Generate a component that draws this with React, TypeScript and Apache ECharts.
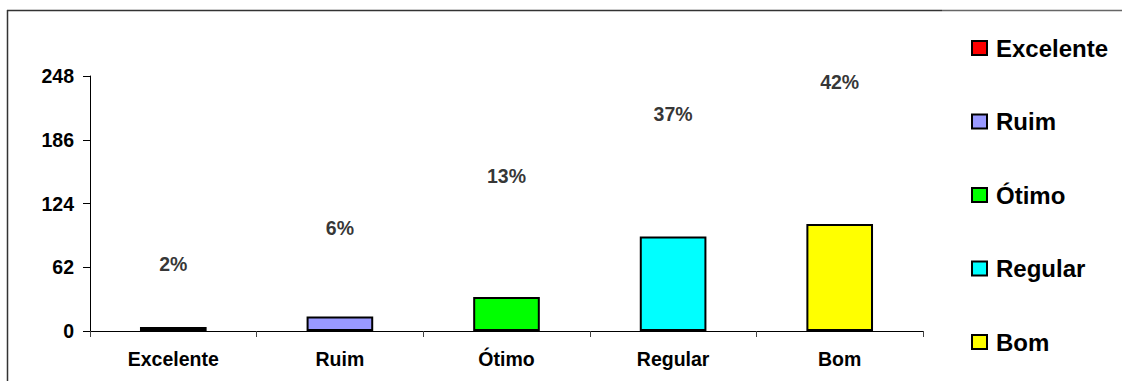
import React, { useEffect, useRef } from "react";
import * as echarts from "echarts";

// Response categories and their counts
const categories = ["Excelente", "Ruim", "Ótimo", "Regular", "Bom"];
const counts = [4, 14, 33, 92, 104];
const barColors = ["#FF0000", "#9999FF", "#00FF00", "#00FFFF", "#FFFF00"];

// Y axis ticks
const yTicks = [0, 62, 124, 186, 248];

// Heights (in axis units) where each percentage label sits
const labelHeights = [65, 100, 151, 211, 242];

const FONT = "'Liberation Sans', Arial, Helvetica, sans-serif";

export default function App() {
  const ref = useRef<HTMLDivElement>(null);

  useEffect(() => {
    if (!ref.current) return;
    const chart = echarts.init(ref.current, undefined, { renderer: "svg" });
    const total = counts.reduce((a, b) => a + b, 0);
    const pct = counts.map((v) => Math.round((v / total) * 100));

    const barSeries = categories.map((name, i) => ({
      name,
      type: "bar",
      stack: "all",
      barWidth: "40%",
      data: counts.map((v, j) => (j === i ? v : "-")),
      itemStyle: { color: barColors[i], borderColor: "#000", borderWidth: 2 },
    }));

    chart.setOption({
      animation: false,
      backgroundColor: "#fff",
      textStyle: { fontFamily: FONT },
      grid: { left: 90, right: 199, top: 76, bottom: 50, containLabel: false },
      xAxis: {
        type: "category",
        data: categories,
        axisLine: { lineStyle: { color: "#000", width: 1 } },
        axisTick: { show: true, length: 6, lineStyle: { color: "#444" } },
        axisLabel: {
          color: "#000",
          fontSize: 19.5,
          fontWeight: "bold",
          fontFamily: FONT,
          margin: 18,
        },
      },
      yAxis: {
        type: "value",
        min: yTicks[0],
        max: yTicks[yTicks.length - 1],
        interval: yTicks[1] - yTicks[0],
        splitLine: { show: false },
        axisLine: { show: true, lineStyle: { color: "#000", width: 1 } },
        axisTick: { show: true, length: 7, lineStyle: { color: "#000" } },
        axisLabel: {
          color: "#000",
          fontSize: 19.5,
          fontWeight: "bold",
          fontFamily: FONT,
          margin: 16,
        },
      },
      legend: {
        data: categories,
        orient: "vertical",
        left: 971,
        top: 36,
        padding: 0,
        itemWidth: 15,
        itemHeight: 14,
        itemGap: 49.5,
        icon: "rect",
        selectedMode: false,
        itemStyle: { borderColor: "#000", borderWidth: 2 },
        textStyle: {
          color: "#000",
          fontSize: 24,
          fontWeight: "bold",
          fontFamily: FONT,
          lineHeight: 24,
          padding: [0, 0, 0, 4],
        },
      },
      series: [
        ...barSeries,
        {
          name: "pct",
          type: "scatter",
          symbolSize: 0,
          silent: true,
          itemStyle: { color: "#000" },
          data: labelHeights,
          label: {
            show: true,
            position: "inside",
            color: "#000",
            textBorderWidth: 0,
            fontSize: 19.5,
            fontWeight: "bold",
            fontFamily: FONT,
            formatter: (p: any) => pct[p.dataIndex] + "%",
          },
        },
      ],
      graphic: [
        {
          type: "line",
          shape: { x1: 7, y1: 10.5, x2: 942, y2: 10.5 },
          style: { stroke: "#333", lineWidth: 1.5 },
        },
        {
          type: "line",
          shape: { x1: 942, y1: 10.5, x2: 1122, y2: 10.5 },
          style: { stroke: "#666", lineWidth: 1.5 },
        },
        {
          type: "line",
          shape: { x1: 7.5, y1: 10, x2: 7.5, y2: 381 },
          style: { stroke: "#333", lineWidth: 1.5 },
        },
      ],
    });

    return () => chart.dispose();
  }, []);

  return (
    <div
      ref={ref}
      style={{ position: "absolute", left: 0, top: 0, width: 1122, height: 381 }}
    />
  );
}
